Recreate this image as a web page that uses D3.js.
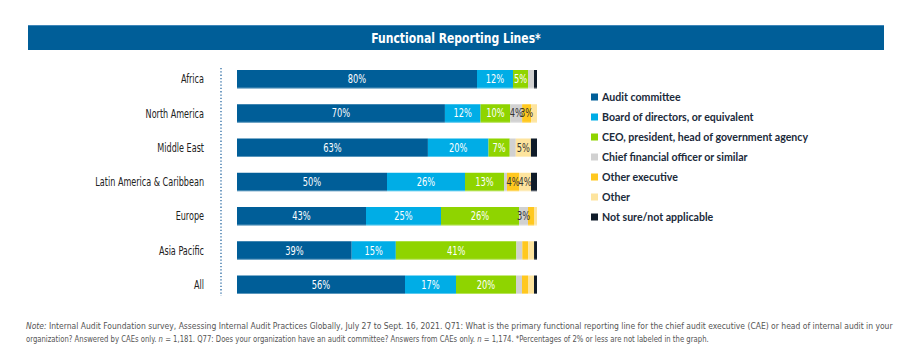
<!DOCTYPE html>
<html>
<head>
<meta charset="utf-8">
<script src="https://cdn.jsdelivr.net/npm/d3@7"></script>
<style>
  html, body { margin: 0; padding: 0; background: #fff; }
  svg { display: block; }
  .cond { font-family: "DejaVu Sans Condensed", "Roboto", sans-serif; }
  .leg { font-family: "Lato", "Open Sans", sans-serif; font-weight: 700; }
</style>
</head>
<body>
<svg id="chart" width="916" height="355"></svg>
<script>
const categories = ["Africa", "North America", "Middle East", "Latin America & Caribbean", "Europe", "Asia Pacific", "All"];
const seriesNames = ["Audit committee", "Board of directors, or equivalent", "CEO, president, head of government agency", "Chief financial officer or similar", "Other executive", "Other", "Not sure/not applicable"];
const auditCommittee = [80, 70, 63, 50, 43, 39, 56];
const board          = [12, 12, 20, 26, 25, 15, 17];
const ceo            = [5, 10, 7, 13, 26, 41, 20];
const cfo            = [2, 4, 2, 1, 3, 2, 2];
const otherExec      = [0, 3, 0, 4, 2, 2, 2];
const other          = [0, 2, 5, 4, 1, 2, 2];
const notSure        = [1, 0, 2, 2, 0, 1, 1];
const colors = ["#005e98", "#00ade6", "#8fd400", "#d1d1d1", "#ffc81f", "#fde49e", "#0f1b29"];
const labelColors = ["#fff", "#fff", "#fff", "#333", "#333", "#333", "#fff"];
const title = "Functional Reporting Lines*";

const seriesArrays = [auditCommittee, board, ceo, cfo, otherExec, other, notSure];
const rows = categories.map((c, i) => {
  const r = { category: c };
  seriesNames.forEach((s, j) => r[s] = seriesArrays[j][i]);
  return r;
});

// squeeze text horizontally to imitate a condensed face
function condense(sel, factor) {
  sel.each(function() {
    const w = this.getComputedTextLength();
    d3.select(this).attr("textLength", w * factor).attr("lengthAdjust", "spacingAndGlyphs");
  });
}

const svg = d3.select("#chart");

// Title bar
svg.append("rect").attr("x", 28).attr("y", 25).attr("width", 856).attr("height", 25).attr("fill", "#005e98");
svg.append("rect").attr("x", 28).attr("y", 25).attr("width", 856).attr("height", 1).attr("fill", "#3f86b8");
svg.append("text").attr("class", "cond").attr("x", 456).attr("y", 43)
  .attr("text-anchor", "middle").attr("fill", "#fff").attr("font-size", 14.5).attr("font-weight", 700)
  .text(title).call(condense, 0.83);

const x = d3.scaleLinear().domain([0, 1]).range([237, 537]);
const y = d3.scaleBand().domain(categories).range([70, 294]).paddingInner(0.46).paddingOuter(0);
const color = d3.scaleOrdinal().domain(seriesNames).range(colors);

const stack = d3.stack().keys(seriesNames).offset(d3.stackOffsetExpand);
const stacked = stack(rows);

// dotted axis line
svg.append("line").attr("x1", 221).attr("x2", 221).attr("y1", 68).attr("y2", 296)
  .attr("stroke", "#2a6aa3").attr("stroke-width", 1.3).attr("stroke-dasharray", "1.3,2");

const groups = svg.append("g").selectAll("g").data(stacked).join("g")
  .attr("fill", d => color(d.key));
groups.selectAll("rect").data(d => d).join("rect")
  .attr("x", d => x(d[0])).attr("y", d => y(d.data.category))
  .attr("width", d => Math.max(0, x(d[1]) - x(d[0]))).attr("height", y.bandwidth());

// thin light bottom edge
svg.append("g").selectAll("line").data(categories).join("line")
  .attr("x1", x(0)).attr("x2", x(1))
  .attr("y1", c => y(c) + y.bandwidth() - 0.5).attr("y2", c => y(c) + y.bandwidth() - 0.5)
  .attr("stroke", "#fff").attr("stroke-opacity", 0.35).attr("stroke-width", 1);

// value labels (>2%)
stacked.forEach((s, j) => {
  svg.append("g").selectAll("text").data(s.filter(d => d.data[s.key] > 2)).join("text")
    .attr("class", "cond")
    .attr("x", d => (x(d[0]) + x(d[1])) / 2)
    .attr("y", d => y(d.data.category) + y.bandwidth() / 2 + 4)
    .attr("text-anchor", "middle").attr("font-size", 11.5)
    .attr("fill", labelColors[j])
    .text(d => d.data[s.key] + "%")
    .call(condense, 0.8);
});

// category axis
const yAxis = svg.append("g").attr("transform", "translate(204,0)")
  .call(d3.axisLeft(y).tickSize(0).tickPadding(0));
yAxis.select(".domain").remove();
yAxis.selectAll("text").attr("class", "cond").attr("font-size", 11.5).attr("fill", "#222").attr("dy", "0.35em")
  .call(condense, 0.78);

// legend
const leg = svg.append("g").selectAll("g").data(seriesNames).join("g")
  .attr("transform", (d, i) => `translate(591, ${97 + i * 20})`);
leg.append("rect").attr("x", 0).attr("y", -3.5).attr("width", 7).attr("height", 7).attr("fill", d => color(d));
leg.append("text").attr("class", "leg").attr("x", 11).attr("y", 3.8)
  .attr("font-size", 10.6).attr("fill", "#1b2a3a").text(d => d);

// note: each line squeezed to the reference width with a horizontal scale
function noteLine(yPos, parts, targetW) {
  const g = svg.append("g");
  const t = g.append("text").attr("class", "cond").attr("font-size", 8.6).attr("fill", "#555").attr("x", 0).attr("y", 0);
  parts.forEach(p => t.append("tspan").attr("font-style", p[1] ? "italic" : null).text(p[0]));
  const w = t.node().getComputedTextLength();
  g.attr("transform", `translate(26,${yPos}) scale(${targetW / w},1)`);
}
noteLine(329, [["Note:", true], [" Internal Audit Foundation survey, Assessing Internal Audit Practices Globally, July 27 to Sept. 16, 2021. Q71: What is the primary functional reporting line for the chief audit executive (CAE) or head of internal audit in your", false]], 867);
noteLine(342, [["organization? Answered by CAEs only. ", false], ["n", true], [" = 1,181. Q77: Does your organization have an audit committee? Answers from CAEs only. ", false], ["n", true], [" = 1,174. *Percentages of 2% or less are not labeled in the graph.", false]], 684);
</script>
</body>
</html>
